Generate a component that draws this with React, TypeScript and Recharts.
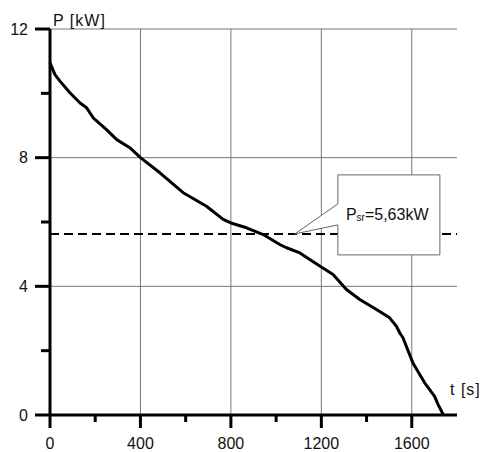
import React from "react";
import {
  LineChart,
  Line,
  XAxis,
  YAxis,
  CartesianGrid,
  ReferenceLine,
  ReferenceDot,
} from "recharts";

// time [s] and power [kW]
const timeS = [
  0, 22, 44, 88, 133, 162, 191, 250, 295, 353, 400, 486, 589, 692, 766, 800,
  869, 943, 1016, 1046, 1105, 1193, 1252, 1311, 1370, 1444, 1502, 1532, 1547,
  1561, 1605, 1657, 1701, 1716, 1740,
];
const powerKW = [
  10.95, 10.58, 10.38, 10.02, 9.7, 9.55, 9.24, 8.87, 8.56, 8.31, 8.0, 7.53,
  6.91, 6.49, 6.08, 5.97, 5.82, 5.61, 5.3, 5.2, 5.04, 4.63, 4.37, 3.9, 3.59,
  3.28, 3.02, 2.76, 2.55, 2.4, 1.62, 1.0, 0.58, 0.33, 0.0,
];

const xTicks = [0, 200, 400, 600, 800, 1000, 1200, 1400, 1600];
const yTicks = [0, 2, 4, 6, 8, 10, 12];
const xGrid = [400, 800, 1200, 1600];
const yGrid = [4, 8, 12];

const P_MEAN = 5.63;
const CALLOUT_T = 1083;

const data = timeS.map((t, i) => ({ t, p: powerKW[i] }));

const FONT = "'Liberation Sans', Arial, sans-serif";

const X_TICK_SIZE = 13;
const X_TICK_MARGIN = 9;
const Y_TICK_SIZE = 14;
const Y_TICK_MARGIN = 8;

const XTick = (props: any) => {
  const { x, y, payload } = props;
  const axisY = y - X_TICK_SIZE - X_TICK_MARGIN;
  const major = payload.value % 400 === 0;
  return (
    <g>
      <line
        x1={x}
        x2={x}
        y1={axisY}
        y2={axisY + (major ? 13 : 7)}
        stroke="#000"
        strokeWidth={3}
      />
      {major && (
        <text
          x={x}
          y={axisY + 34}
          textAnchor="middle"
          fontFamily={FONT}
          fontSize={16}
          fill="#111"
        >
          {payload.value}
        </text>
      )}
    </g>
  );
};

const YTick = (props: any) => {
  const { x, y, payload } = props;
  const axisX = x + Y_TICK_SIZE + Y_TICK_MARGIN;
  const major = payload.value % 4 === 0;
  return (
    <g>
      <line
        x1={axisX}
        x2={axisX - (major ? 15 : 9)}
        y1={y}
        y2={y}
        stroke="#000"
        strokeWidth={3}
      />
      {major && (
        <text
          x={x}
          y={y}
          dy="0.36em"
          textAnchor="end"
          fontFamily={FONT}
          fontSize={16}
          fill="#111"
        >
          {payload.value}
        </text>
      )}
    </g>
  );
};

const YTitle = (props: any) => {
  const vb = props.viewBox || {};
  return (
    <text
      x={vb.x + vb.width + 3}
      y={vb.y - 3}
      fontFamily={FONT}
      fontSize={16}
      letterSpacing={1}
      fill="#111"
    >
      P [kW]
    </text>
  );
};

const XTitle = (props: any) => {
  const vb = props.viewBox || {};
  return (
    <text
      x={vb.x + vb.width - 7}
      y={vb.y - 20}
      fontFamily={FONT}
      fontSize={16}
      letterSpacing={1}
      fill="#111"
    >
      t [s]
    </text>
  );
};

// speech-bubble box pointing at the mean line
const Callout = (props: any) => {
  const { cx, cy } = props;
  const bx = cx + 43;
  const by = cy - 59;
  const w = 102;
  const h = 80;
  const path = `M${bx},${by} L${bx + w},${by} L${bx + w},${by + h} L${bx},${by + h} L${bx},${cy - 9} L${cx},${cy} L${bx},${cy - 30} Z`;
  return (
    <g>
      <path d={path} fill="#fff" stroke="#666" strokeWidth={1} />
      <text x={bx + 8} y={cy - 14} fontFamily={FONT} fontSize={16} fill="#111">
        P
        <tspan fontSize={10} dy={1}>
          sr
        </tspan>
        <tspan dy={-1}>=5,63kW</tspan>
      </text>
    </g>
  );
};

export default function App() {
  return (
    <div style={{ position: "absolute", left: 0, top: 0, background: "#fff" }}>
      <LineChart
        width={481}
        height={452}
        data={data}
        margin={{ top: 29, right: 24, left: 0, bottom: 0 }}
      >
        <CartesianGrid
          stroke="#777"
          strokeWidth={1}
          verticalValues={xGrid}
          horizontalValues={yGrid}
        />
        <XAxis
          type="number"
          dataKey="t"
          domain={[0, 1800]}
          ticks={xTicks}
          interval={0}
          height={37}
          tickSize={X_TICK_SIZE}
          tickMargin={X_TICK_MARGIN}
          tickLine={false}
          tick={<XTick />}
          axisLine={{ stroke: "#000", strokeWidth: 3 }}
          label={<XTitle />}
        />
        <YAxis
          type="number"
          domain={[0, 12]}
          ticks={yTicks}
          interval={0}
          width={50}
          tickSize={Y_TICK_SIZE}
          tickMargin={Y_TICK_MARGIN}
          tickLine={false}
          tick={<YTick />}
          axisLine={{ stroke: "#000", strokeWidth: 3 }}
          label={<YTitle />}
        />
        <ReferenceLine
          y={P_MEAN}
          stroke="#000"
          strokeWidth={2}
          strokeDasharray="9 5"
        />
        <Line
          type="linear"
          dataKey="p"
          stroke="#000"
          strokeWidth={3}
          strokeLinejoin="round"
          dot={false}
          isAnimationActive={false}
        />
        <ReferenceDot x={CALLOUT_T} y={P_MEAN} r={0} shape={<Callout />} />
      </LineChart>
    </div>
  );
}
